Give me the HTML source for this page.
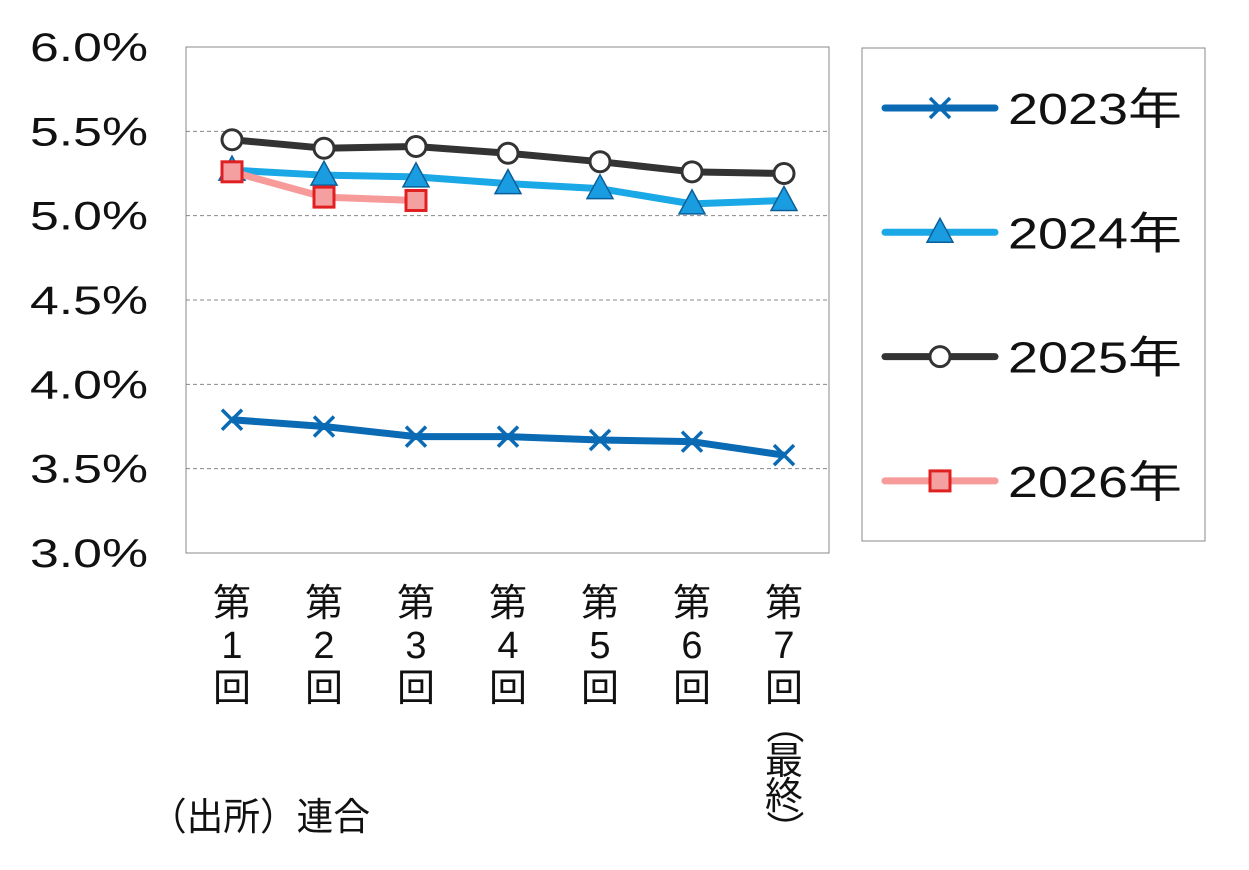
<!DOCTYPE html>
<html><head><meta charset="utf-8">
<style>
body{margin:0;background:#fff;width:1249px;height:865px;overflow:hidden;font-family:"Liberation Sans","Noto Sans CJK JP",sans-serif;}
</style></head>
<body>
<svg id="chart" width="1249" height="865" xmlns="http://www.w3.org/2000/svg" font-family="Liberation Sans, Noto Sans CJK JP, sans-serif"></svg>
<script>
const categories=["第1回","第2回","第3回","第4回","第5回","第6回","第7回(最終)"];
const catChars=[["第","1","回"],["第","2","回"],["第","3","回"],["第","4","回"],["第","5","回"],["第","6","回"],["第","7","回","（","最","終","）"]];
const seriesNames=["2023年","2024年","2025年","2026年"];
const s2023=[3.79,3.75,3.69,3.69,3.67,3.66,3.58];
const s2024=[5.27,5.24,5.23,5.19,5.16,5.07,5.09];
const s2025=[5.45,5.40,5.41,5.37,5.32,5.26,5.25];
const s2026=[5.26,5.11,5.09];
const yTicks=[3.0,3.5,4.0,4.5,5.0,5.5,6.0];
const yTickLabels=["3.0%","3.5%","4.0%","4.5%","5.0%","5.5%","6.0%"];

const NS="http://www.w3.org/2000/svg";
const svg=document.getElementById('chart');
const L=186,R=829,T=47,B=553;
function y(v){return B-(v-3.0)/3.0*(B-T);}
function x(i){return 232+i*92;}
function mk(tag,attrs,parent){const e=document.createElementNS(NS,tag);for(const k in attrs)e.setAttribute(k,attrs[k]);(parent||svg).appendChild(e);return e;}

const plot=mk('rect',{x:L,y:T,width:R-L,height:B-T,fill:'#fff',stroke:'#888','stroke-width':1});


yTicks.forEach((t,i)=>{
  if(t>3.0&&t<6.0){
    const g=mk('line',{x1:L,x2:R,y1:y(t),y2:y(t),stroke:'#888','stroke-dasharray':'4,3','stroke-width':1});
    
    
  }
  const tx=mk('text',{x:30,y:y(t)+14,'font-size':40,fill:'#111',textLength:118,lengthAdjust:'spacingAndGlyphs'});
  tx.textContent=yTickLabels[i];
  
  
});
const charCenters=[603,645,688,725,761,796,829];
catChars.forEach((chars,i)=>{
  const g=mk('g',{});
  
  
  chars.forEach((c,j)=>{
    const cy=charCenters[j];
    const t=mk('text',{x:x(i),y:cy+13,'text-anchor':'middle','font-size':38,fill:'#111'},g);
    if(c==="（"||c==="）"){t.setAttribute('transform','rotate(90 '+x(i)+' '+cy+')');}
    t.textContent=c;
  });
});
const src=mk('text',{x:150,y:830,'font-size':38,fill:'#111',textLength:220,lengthAdjust:'spacingAndGlyphs'});
src.textContent="（出所）連合";



function marker(type,cx,cy,parent){
  if(type==='x'){
    mk('path',{d:`M${cx-10},${cy-10}L${cx+10},${cy+10}M${cx-10},${cy+10}L${cx+10},${cy-10}`,stroke:'#0a6ab4','stroke-width':3.5,fill:'none'},parent);
  }else if(type==='tri'){
    mk('path',{d:`M${cx},${cy-14}L${cx+13},${cy+10}L${cx-13},${cy+10}Z`,fill:'#1a9de0',stroke:'#0a5f9a','stroke-width':1.5},parent);
  }else if(type==='circle'){
    mk('circle',{cx,cy,r:10,fill:'#fff',stroke:'#333','stroke-width':3},parent);
  }else{
    mk('rect',{x:cx-10,y:cy-10,width:20,height:20,fill:'#f4a0a0',stroke:'#e02020','stroke-width':3},parent);
  }
}
const specs=[[s2023,'#0a6ab4','x','series-2023'],[s2024,'#1aa8e6','tri','series-2024'],[s2025,'#333333','circle','series-2025'],[s2026,'#f79a9a','sq','series-2026']];
specs.forEach(([d,col,m,name])=>{
  const g=mk('g',{});
  
  
  mk('polyline',{points:d.map((v,i)=>x(i)+','+y(v)).join(' '),fill:'none',stroke:col,'stroke-width':7,'stroke-linejoin':'round'},g);
  d.forEach((v,i)=>marker(m,x(i),y(v),g));
});
const lg=mk('g',{});


mk('rect',{x:862,y:48,width:343,height:493,fill:'#fff',stroke:'#888','stroke-width':1},lg);
specs.forEach(([d,col,m],i)=>{
  const e=mk('g',{},lg);
  
  
  const ly=108+i*124.3;
  mk('line',{x1:885,x2:995,y1:ly,y2:ly,stroke:col,'stroke-width':7,'stroke-linecap':'round'},e);
  marker(m,940,ly,e);
  const t=mk('text',{x:1008,y:ly+16,'font-size':44,fill:'#111',textLength:174,lengthAdjust:'spacingAndGlyphs'},e);
  t.textContent=seriesNames[i];
});
</script>
</body></html>
